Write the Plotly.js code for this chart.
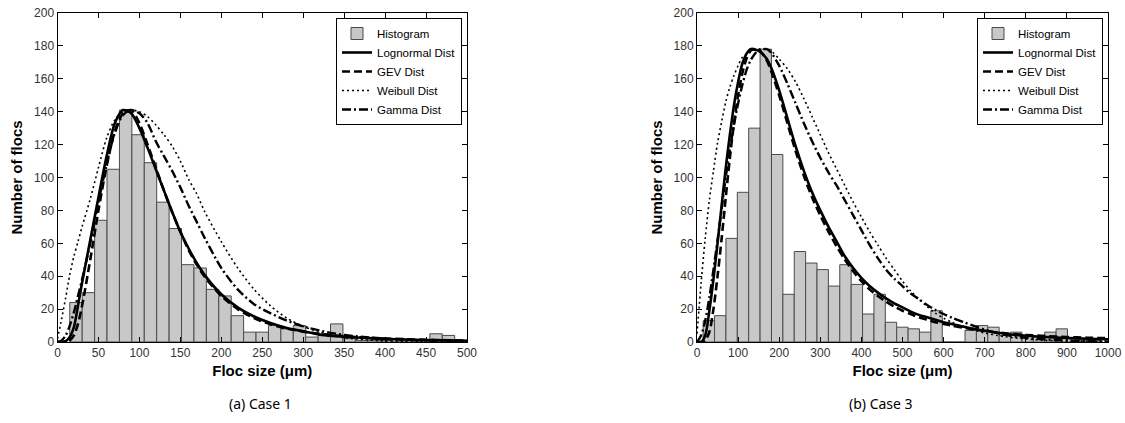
<!DOCTYPE html>
<html>
<head>
<meta charset="utf-8">
<script src="https://cdn.plot.ly/plotly-3.0.1.min.js"></script>
<style>
html,body{margin:0;padding:0;background:#fff;}
#chart{width:1125px;height:423px;}
</style>
</head>
<body>
<div id="chart"></div>
<script>
// ---------- Case 1 data ----------
const binStart1 = 15;
const binWidth1 = 15.16;
const counts1 = [24,30,74,105,141,126,109,85,69,47,45,32,28,16,6,6,10,8,10,3,4,11,2,1,1,1,0,1,1,5,4,1];

const xCurve1 = [0,5,10,15,20,25,30,40,50,60,70,80,90,100,110,120,130,140,150,160,170,180,200,220,240,260,280,300,320,340,360,380,400,425,450,475,500];
const lognormal1 = [0,0,0.5,3,9,22,36,62,88,113,133,141,139,130,118,105,92,79,67,57,48,40.5,29,21,15.5,11.5,8.5,6.5,4.5,3.6,2.9,2.3,1.9,1.5,1.2,1,0.8];
const gev1       = [0,0,0,1,4,11,22,50,80,107,128,139,141,133,120,106,92,79,67,56,47,39.5,28,20,14.5,10.8,8.2,6.3,5,4,3.2,2.6,2.1,1.7,1.4,1.1,0.9];
const weibull1   = [2,14,27,41,52,61,70,87,106,124,135,140,141,140,137,132,126,119,110,99,90,79,61,45,32,22,14.5,9.5,6,3.5,2,1.2,0.6,0.3,0.1,0,0];
const gamma1     = [0,1,4,10,18,28,38,60,85,108,127,138,141,139,133,122,113,104,94,83,73,63,45,32,23,17.5,13,9.5,7,5,3.7,2.7,2,1.3,0.9,0.6,0.4];

// ---------- Case 3 data ----------
const binStart3 = 15;
const binWidth3 = 27.7;
const counts3 = [13,16,63,91,130,178,114,29,55,48,44,34,47,35,17,29,12,9,8,6,19,0,0,7,10,9,4,6,4,3,6,8,2,1,1];

const xCurve3 = [0,10,20,30,40,50,60,70,80,90,100,110,120,130,140,150,160,170,180,200,220,240,260,280,300,320,340,360,380,400,420,440,460,480,500,520,540,560,580,600,620,650,700,750,800,850,900,950,1000];
const lognormal3 = [0,0,4,19,38,60,83,106,126,144,158,169,175,178,178,177,175,172,167,153,136,119,104,91,80,70,61,52,45,39,34,30,26.5,23.5,21,18.5,16.5,15,13.5,12,11,9.3,6.8,5,3.8,3,2.4,2,1.7];
const gev3       = [0,0,1,6,20,40,63,88,112,133,150,163,172,177,178,178,175,171,165,150,133,116,101,88,77,67,58,50,43,37,32,28,24.5,21.5,19,17,15,13.5,12,11,10,8.6,6.7,5.3,4.3,3.6,3,2.6,2.3];
const weibull3   = [5,36,63,86,104,121,134,146,155,162,168,173,175,176.5,177.5,178,178,178,177,172,166,158,148,137,126,115,105,95,85,76,67,59,51,44,37,31,26,21.5,17.5,14.5,12,9,5.5,3.2,1.8,1,0.5,0.2,0.1];
const gamma3     = [0,4,13,27,44,62,81,100,117,132,145,156,165,171,175,177.5,178,178,176,168,157,145,133,122,112,103,95,86,77,68,59,51,44,38.5,34,29.5,26,22.5,19.5,17,14.8,12,7.5,4.3,2.5,1.5,0.9,0.5,0.3];

const seriesNames = ['Histogram','Lognormal Dist','GEV Dist','Weibull Dist','Gamma Dist'];
const axisTitleX = 'Floc size (\u03bcm)';
const axisTitleY = 'Number of flocs';
const captions = ['(a) Case 1','(b) Case 3'];

// ---------- build ----------
function centers(start, width, n){ const c=[]; for(let i=0;i<n;i++) c.push(start+width*(i+0.5)); return c; }

const lineStyles = [
  {width:2.6, dash:'solid'},
  {width:2.6, dash:'8px,4px'},
  {width:1.6, dash:'2px,3px'},
  {width:2.4, dash:'9px,3px,2px,3px'}
];

function panelTraces(xa, ya, legendId, start, width, counts, xc, curves){
  const t = [];
  t.push({
    type:'bar', x:centers(start,width,counts.length), y:counts, width:width,
    xaxis:xa, yaxis:ya, name:seriesNames[0], legend:legendId,
    marker:{color:'#c8c8c8', line:{color:'#4a4a4a', width:1}},
    hoverinfo:'x+y'
  });
  curves.forEach((c,i)=>{
    t.push({
      type:'scatter', mode:'lines', x:xc, y:c, xaxis:xa, yaxis:ya,
      name:seriesNames[i+1], legend:legendId,
      line:{color:'#000', width:lineStyles[i].width, dash:lineStyles[i].dash, shape:'spline', smoothing:0.8}
    });
  });
  return t;
}

const data = [].concat(
  panelTraces('x','y','legend',binStart1,binWidth1,counts1,xCurve1,[lognormal1,gev1,weibull1,gamma1]),
  panelTraces('x2','y2','legend2',binStart3,binWidth3,counts3,xCurve3,[lognormal3,gev3,weibull3,gamma3])
);

const W = 1125, H = 423;
const tickFont = {family:'Liberation Sans, Arial, sans-serif', size:12, color:'#333'};
const titleFont = {family:'Liberation Sans, Arial, sans-serif', size:15, color:'#000', weight:'bold'};

function xAxis(domain, range, dtick, anchor){
  return {domain:domain, range:range, dtick:dtick, tick0:0, anchor:anchor,
    showline:true, linecolor:'#000', linewidth:1, mirror:'ticks',
    ticks:'inside', ticklen:5, tickcolor:'#000', showgrid:false, zeroline:false,
    tickfont:tickFont, title:{text:axisTitleX, font:titleFont, standoff:6}};
}
function yAxis(domain, anchor){
  return {domain:domain, range:[0,200], dtick:20, tick0:0, anchor:anchor,
    showline:true, linecolor:'#000', linewidth:1, mirror:'ticks',
    ticks:'inside', ticklen:5, tickcolor:'#000', showgrid:false, zeroline:false,
    tickfont:tickFont, title:{text:axisTitleY, font:titleFont, standoff:7}};
}

const yDom = [(H-342)/H, (H-13)/H];
const legendBase = {
  xanchor:'right', yanchor:'top', bgcolor:'#fff', bordercolor:'#000', borderwidth:1,
  font:{family:'Liberation Sans, Arial, sans-serif', size:11.5, color:'#000'},
  tracegroupgap:0, itemwidth:30
};

const layout = {
  width:W, height:H, margin:{l:0,r:0,t:0,b:0},
  paper_bgcolor:'#fff', plot_bgcolor:'#fff', bargap:0, showlegend:true,
  xaxis: xAxis([57.5/W, 467/W], [0,500], 50, 'y'),
  yaxis: yAxis(yDom, 'x'),
  xaxis2: xAxis([697/W, 1108/W], [0,1000], 100, 'y2'),
  yaxis2: yAxis(yDom, 'x2'),
  legend: Object.assign({x:462/W, y:(H-18)/H}, legendBase),
  legend2: Object.assign({x:1103/W, y:(H-18)/H}, legendBase),
  annotations:[
    {text:captions[0], x:260/W, y:(H-403)/H, xref:'paper', yref:'paper', showarrow:false,
     xanchor:'center', yanchor:'middle', font:{family:'Noto Sans, sans-serif', size:14, color:'#000'}},
    {text:captions[1], x:881/W, y:(H-403)/H, xref:'paper', yref:'paper', showarrow:false,
     xanchor:'center', yanchor:'middle', font:{family:'Noto Sans, sans-serif', size:14, color:'#000'}}
  ]
};

Plotly.newPlot('chart', data, layout, {staticPlot:true, displayModeBar:false});
</script>
</body>
</html>
